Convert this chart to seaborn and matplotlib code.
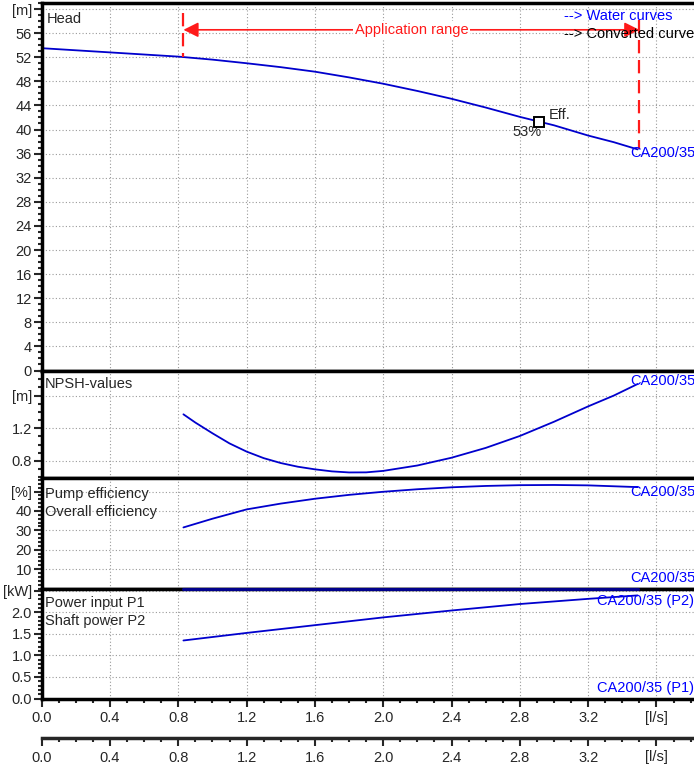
import numpy as np
import matplotlib
matplotlib.use("Agg")
import matplotlib.pyplot as plt
from matplotlib.ticker import MultipleLocator, FixedLocator
import seaborn as sns

# flow [l/s] and curves
q_head = [0.0, 0.4, 0.8, 1.0, 1.2, 1.4, 1.6, 1.8, 2.0, 2.2, 2.4, 2.6, 2.8, 3.0, 3.2, 3.35, 3.49]
head = [53.5, 52.8, 52.1, 51.6, 51.0, 50.35, 49.6, 48.65, 47.6, 46.4, 45.1, 43.65, 42.1, 40.7, 39.0, 37.9, 36.7]

q_npsh = [0.83, 0.9, 1.0, 1.1, 1.2, 1.3, 1.4, 1.5, 1.6, 1.7, 1.8, 1.9, 2.0, 2.2, 2.4, 2.6, 2.8, 3.0, 3.2, 3.35, 3.49]
npsh = [1.371, 1.27, 1.139, 1.015, 0.915, 0.835, 0.775, 0.73, 0.698, 0.673, 0.66, 0.661, 0.679, 0.745, 0.84,
        0.96, 1.106, 1.28, 1.468, 1.60, 1.742]

q_eff = [0.83, 1.0, 1.2, 1.4, 1.6, 1.8, 2.0, 2.2, 2.4, 2.6, 2.8, 3.0, 3.2, 3.49]
pump_eff = [31.5, 36.0, 40.8, 43.8, 46.3, 48.3, 49.9, 51.2, 52.2, 52.9, 53.3, 53.4, 53.2, 52.3]

q_pow = [0.83, 1.2, 1.6, 2.0, 2.4, 2.8, 3.2, 3.49]
power_p2 = [1.345, 1.52, 1.70, 1.88, 2.04, 2.19, 2.31, 2.39]

app_range = [0.83, 3.50]
bep_q = 2.91
bep_eff = "53%"
pump_name = "CA200/35"

x_ticks = [0.0, 0.4, 0.8, 1.2, 1.6, 2.0, 2.4, 2.8, 3.2, 3.6]
x_labels = ["0.0", "0.4", "0.8", "1.2", "1.6", "2.0", "2.4", "2.8", "3.2", "[l/s]"]

head_ticks = list(range(0, 61, 4))
head_labels = [str(v) for v in head_ticks[:-1]] + ["[m]"]
npsh_ticks = [0.8, 1.2, 1.6]
npsh_labels = ["0.8", "1.2", "[m]"]
eff_ticks = [10, 20, 30, 40, 50]
eff_labels = ["10", "20", "30", "40", "[%]"]
pow_ticks = [0.0, 0.5, 1.0, 1.5, 2.0, 2.5]
pow_labels = ["0.0", "0.5", "1.0", "1.5", "2.0", "[kW]"]

sns.set_style("ticks")
plt.rcParams['font.family'] = ['Liberation Sans', 'DejaVu Sans']
plt.rcParams['font.size'] = 10.5

W, H = 694, 764
BLUE = "#0000cd"
TBLUE = "#0000ff"
RED = "#ff1a1a"
FS = 10.5
fig = plt.figure(figsize=(W / 100, H / 100), dpi=100)


def box(top, bottom, left=41.7, right=694):
    return [left / W, 1 - bottom / H, (right - left) / W, (bottom - top) / H]


def style_axis(ax, ylim, yticks, ylabels, minor, show_x=False):
    ax.set_xlim(0, 3.82)
    ax.set_ylim(*ylim)
    ax.yaxis.set_major_locator(FixedLocator(yticks))
    ax.set_yticklabels(ylabels)
    ax.yaxis.set_minor_locator(MultipleLocator(minor))
    ax.xaxis.set_major_locator(FixedLocator(x_ticks))
    ax.xaxis.set_minor_locator(MultipleLocator(0.1))
    ax.grid(True, which='major', color='#9a9a9a', linestyle=(0, (1, 2)), linewidth=0.8)
    ax.set_axisbelow(True)
    for s in ['left', 'top', 'bottom']:
        ax.spines[s].set_linewidth(2.5)
        ax.spines[s].set_color('black')
    ax.spines['right'].set_visible(False)
    ax.tick_params(axis='y', which='major', direction='out', length=6, width=1.5, pad=1, labelsize=FS)
    ax.tick_params(axis='y', which='minor', direction='out', length=3, width=1.5)
    if show_x:
        ax.set_xticklabels(x_labels)
        ax.tick_params(axis='x', which='major', direction='out', length=6, width=1.5, pad=3, labelsize=FS)
        ax.tick_params(axis='x', which='minor', direction='out', length=3, width=1.5)
    else:
        ax.tick_params(axis='x', which='both', length=0, labelbottom=False)
    ax.set_xlabel('')
    ax.set_ylabel('')


# --- head panel
ax1 = fig.add_axes(box(3, 370.5))
sns.lineplot(x=q_head, y=head, ax=ax1, color=BLUE, linewidth=1.3)
style_axis(ax1, (0, 61), head_ticks, head_labels, 1)
ax1.text(0.008, 0.957, "Head", transform=ax1.transAxes, va='center', ha='left')
bep_h = np.interp(bep_q, q_head, head)
ax1.plot([bep_q], [bep_h], marker='s', ms=6.5, mfc='white', mec='black', mew=1.4, zorder=5)
ax1.annotate("Eff.", (bep_q, bep_h), xytext=(7, 4.5), textcoords='offset points', ha='left', va='center')
ax1.annotate(bep_eff, (bep_q, bep_h), xytext=(2, -7.5), textcoords='offset points', ha='right', va='center')
ax1.text(3.445, 36.1, pump_name, color=TBLUE, va='center', ha='left')

# application range
y_arrow = 56.55
h_left = np.interp(app_range[0], q_head, head)
h_right = np.interp(app_range[1], q_head, head)
ax1.plot([app_range[0], app_range[0]], [59.4, h_left], color=RED, lw=1.6, linestyle=(0, (6, 3)))
ax1.plot([app_range[1], app_range[1]], [58.2, h_right], color=RED, lw=1.6, linestyle=(0, (6, 3)))
ax1.annotate('', xy=(app_range[0], y_arrow), xytext=(app_range[1], y_arrow),
             arrowprops=dict(arrowstyle='<|-|>,head_length=0.5,head_width=0.25', color=RED, lw=1.2,
                             mutation_scale=18, shrinkA=0, shrinkB=0))
ax1.text(sum(app_range) / 2, y_arrow, "Application range", color=RED, ha='center', va='center',
         bbox=dict(facecolor='white', edgecolor='none', pad=1.5))
ax1.text(3.058, 58.9, "--> Water curves", color=TBLUE, ha='left', va='center')
ax1.text(3.058, 55.9, "--> Converted curves", color='black', ha='left', va='center')

# --- NPSH panel
ax2 = fig.add_axes(box(370.5, 478))
sns.lineplot(x=q_npsh, y=npsh, ax=ax2, color=BLUE, linewidth=1.3)
style_axis(ax2, (0.592, 1.907), npsh_ticks, npsh_labels, 0.1)
ax2.text(0.005, 0.874, "NPSH-values", transform=ax2.transAxes, va='center', ha='left')
ax2.text(3.445, 1.779, pump_name, color=TBLUE, va='center', ha='left')

# --- efficiency panel
ax3 = fig.add_axes(box(478, 588.5))
sns.lineplot(x=q_eff, y=pump_eff, ax=ax3, color=BLUE, linewidth=1.3)
style_axis(ax3, (0, 57), eff_ticks, eff_labels, 2)
ax3.text(0.005, 0.855, "Pump efficiency", transform=ax3.transAxes, va='center', ha='left')
ax3.text(0.005, 0.692, "Overall efficiency", transform=ax3.transAxes, va='center', ha='left')
ax3.text(3.445, 49.8, pump_name, color=TBLUE, va='center', ha='left')
ax3.text(3.445, 5.4, pump_name, color=TBLUE, va='center', ha='left')

# --- power panel
ax4 = fig.add_axes(box(588.5, 698.5))
sns.lineplot(x=q_pow, y=power_p2, ax=ax4, color=BLUE, linewidth=1.3)
style_axis(ax4, (0, 2.55), pow_ticks, pow_labels, 0.1, show_x=True)
ax4.plot([q_pow[0], q_pow[-1]], [2.55, 2.55], color='#00008b', lw=2.2, clip_on=False, zorder=6)
ax4.text(0.005, 0.868, "Power input P1", transform=ax4.transAxes, va='center', ha='left')
ax4.text(0.005, 0.705, "Shaft power P2", transform=ax4.transAxes, va='center', ha='left')
ax4.text(3.251, 2.26, pump_name + " (P2)", color=TBLUE, va='center', ha='left')
ax4.text(3.251, 0.25, pump_name + " (P1)", color=TBLUE, va='center', ha='left')

# --- second flow axis at the bottom
ax5 = fig.add_axes(box(737, 738))
ax5.set_xlim(0, 3.82)
ax5.set_yticks([])
for s in ['left', 'top', 'right']:
    ax5.spines[s].set_visible(False)
ax5.spines['bottom'].set_linewidth(2.5)
ax5.xaxis.set_major_locator(FixedLocator(x_ticks))
ax5.set_xticklabels(x_labels)
ax5.xaxis.set_minor_locator(MultipleLocator(0.1))
ax5.tick_params(axis='x', which='major', direction='out', length=6, width=1.5, pad=3, labelsize=FS)
ax5.tick_params(axis='x', which='minor', direction='out', length=3, width=1.5)
ax5.patch.set_alpha(0)

fig.savefig("out.png", dpi=100)
